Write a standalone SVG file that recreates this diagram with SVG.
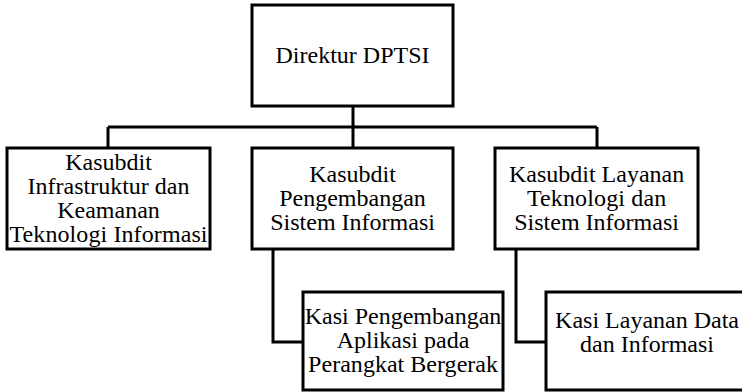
<svg xmlns="http://www.w3.org/2000/svg" width="742" height="392" viewBox="0 0 742 392">
<style>
.box{fill:#fff;stroke:#000;stroke-width:3}
.c{fill:none;stroke:#000;stroke-width:3}
.t{font-family:'Times New Roman','Liberation Serif',Tinos,serif;font-size:24px;fill:#000}
</style>
<rect width="742" height="392" fill="#fff"/>
<g id="connectors">
<path class="c" d="M353 106V127M108 127H597M108 127V148M353 127V148M597 127V148"/>
<path class="c" d="M273 249V342H303"/>
<path class="c" d="M516 249V342H546"/>
</g>
<g id="direktur">
<rect class="box" x="252" y="5" width="201" height="101"/>
<text class="t" x="275.5" y="63" textLength="154">Direktur DPTSI</text>
</g>
<g id="kasubdit-infra">
<rect class="box" x="7" y="148" width="203" height="101"/>
<text class="t" x="65.2" y="170" textLength="86.7">Kasubdit</text>
<text class="t" x="27.5" y="194" textLength="162">Infrastruktur dan</text>
<text class="t" x="57.2" y="218" textLength="102.6">Keamanan</text>
<text class="t" x="9.5" y="242" textLength="198">Teknologi Informasi</text>
</g>
<g id="kasubdit-si">
<rect class="box" x="252" y="148" width="201" height="101"/>
<text class="t" x="309.2" y="182" textLength="86.7">Kasubdit</text>
<text class="t" x="279.2" y="206" textLength="146.6">Pengembangan</text>
<text class="t" x="270.2" y="230" textLength="164.7">Sistem Informasi</text>
</g>
<g id="kasubdit-layanan">
<rect class="box" x="495" y="148" width="203" height="101"/>
<text class="t" x="508.9" y="182" textLength="175.3">Kasubdit Layanan</text>
<text class="t" x="526.9" y="206" textLength="139.3">Teknologi dan</text>
<text class="t" x="514.2" y="230" textLength="164.7">Sistem Informasi</text>
</g>
<g id="kasi-aplikasi">
<rect class="box" x="303" y="292" width="200" height="98"/>
<text class="t" x="304.7" y="324" textLength="196.6">Kasi Pengembangan</text>
<text class="t" x="336.7" y="348" textLength="132.6">Aplikasi pada</text>
<text class="t" x="308.1" y="372" textLength="189.9">Perangkat Bergerak</text>
</g>
<g id="kasi-data">
<rect class="box" x="546" y="292" width="200" height="98"/>
<text class="t" x="555.1" y="328" textLength="183.9">Kasi Layanan Data</text>
<text class="t" x="580" y="352" textLength="134">dan Informasi</text>
</g>
</svg>
